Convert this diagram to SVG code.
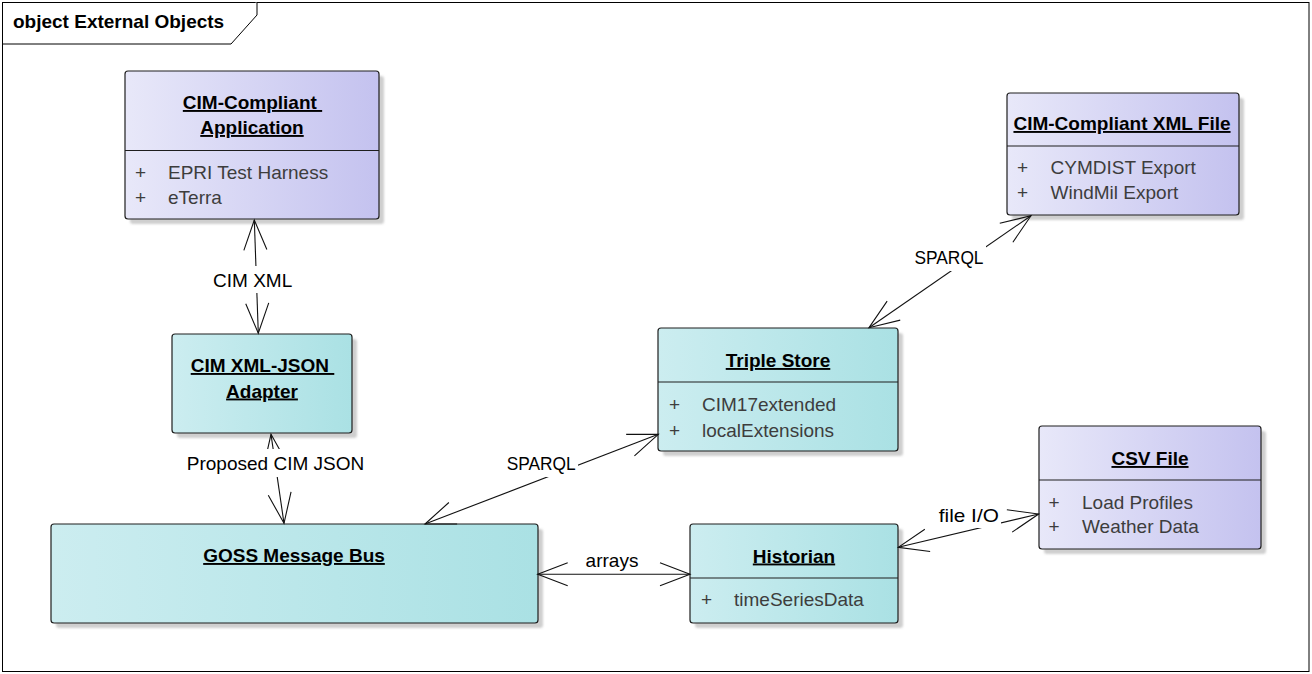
<svg xmlns="http://www.w3.org/2000/svg" width="1312" height="674" viewBox="0 0 1312 674">
<style>
text{font-family:"Liberation Sans",Arial,sans-serif;font-size:19px}
.ttl{font-weight:bold;fill:#000;text-anchor:middle;text-decoration:underline}
.att{fill:#3d3d3d}
.lbl{fill:#000;text-anchor:middle}
.box{stroke:#1e1e1e;stroke-width:1.2}
.sep{stroke:#1e1e1e;stroke-width:1.2}
.shd{fill:#cfcfcf;filter:url(#blur)}
.con{stroke:#111;stroke-width:1.1;fill:none;marker-start:url(#open);marker-end:url(#open)}
.lbg{fill:#fff}
</style>
<defs>
<linearGradient id="gP" x1="0" y1="0" x2="1" y2="0"><stop offset="0" stop-color="#e8e8f9"/><stop offset="1" stop-color="#c4c2ef"/></linearGradient>
<linearGradient id="gT" x1="0" y1="0" x2="1" y2="0"><stop offset="0" stop-color="#ccedf0"/><stop offset="1" stop-color="#aae1e4"/></linearGradient>
<filter id="blur" x="-5%" y="-5%" width="110%" height="110%"><feGaussianBlur stdDeviation="1.2"/></filter>
<marker id="open" markerUnits="userSpaceOnUse" viewBox="-32 -13 34 26" refX="0" refY="0" markerWidth="34" markerHeight="26" orient="auto-start-reverse">
<path d="M-30,-11.5 L0,0 L-30,11.5" fill="none" stroke="#111" stroke-width="1.1"/>
</marker>
</defs>
<rect width="1312" height="674" fill="#fff"/>
<g id="frame">
<rect x="2.5" y="2.5" width="1306.5" height="669" fill="none" stroke="#000" stroke-width="1"/>
<path d="M2.5,44 H231 L257,15 V2.5" fill="#fff" stroke="#000" stroke-width="1"/>
<text x="13" y="28" style="font-weight:bold">object External Objects</text>
</g>

<g id="cim-app">
<rect class="shd" x="130" y="76" width="254" height="148" rx="3"/>
<rect class="box" x="125" y="71" width="254" height="148" rx="3" fill="url(#gP)"/>
<line class="sep" x1="125" y1="150.5" x2="379" y2="150.5"/>
<text class="ttl" x="252.5" y="109" xml:space="preserve">CIM-Compliant </text>
<text class="ttl" x="252" y="134">Application</text>
<text class="att" x="135" y="179">+</text><text class="att" x="168" y="179">EPRI Test Harness</text>
<text class="att" x="135" y="204">+</text><text class="att" x="168" y="204">eTerra</text>
</g>

<g id="cim-xml-file">
<rect class="shd" x="1012" y="98" width="232" height="122" rx="3"/>
<rect class="box" x="1007" y="93" width="232" height="122" rx="3" fill="url(#gP)"/>
<line class="sep" x1="1007" y1="146" x2="1239" y2="146"/>
<text class="ttl" x="1122" y="130">CIM-Compliant XML File</text>
<text class="att" x="1017" y="174">+</text><text class="att" x="1050.5" y="174">CYMDIST Export</text>
<text class="att" x="1017" y="199">+</text><text class="att" x="1050.5" y="199">WindMil Export</text>
</g>

<g id="adapter">
<rect class="shd" x="177" y="339" width="180" height="99" rx="3"/>
<rect class="box" x="172" y="334" width="180" height="99" rx="3" fill="url(#gT)"/>
<text class="ttl" x="262.5" y="372" xml:space="preserve">CIM XML-JSON </text>
<text class="ttl" x="262" y="397.5">Adapter</text>
</g>

<g id="triple-store">
<rect class="shd" x="663" y="333" width="240" height="123" rx="3"/>
<rect class="box" x="658" y="328" width="240" height="123" rx="3" fill="url(#gT)"/>
<line class="sep" x1="658" y1="382" x2="898" y2="382"/>
<text class="ttl" x="778" y="367">Triple Store</text>
<text class="att" x="669" y="410.5">+</text><text class="att" x="702" y="410.5">CIM17extended</text>
<text class="att" x="669" y="436.5">+</text><text class="att" x="702" y="436.5">localExtensions</text>
</g>

<g id="csv-file">
<rect class="shd" x="1044" y="431" width="222" height="123" rx="3"/>
<rect class="box" x="1039" y="426" width="222" height="123" rx="3" fill="url(#gP)"/>
<line class="sep" x1="1039" y1="480" x2="1261" y2="480"/>
<text class="ttl" x="1150" y="465">CSV File</text>
<text class="att" x="1048.5" y="509">+</text><text class="att" x="1082" y="509">Load Profiles</text>
<text class="att" x="1048.5" y="533">+</text><text class="att" x="1082" y="533">Weather Data</text>
</g>

<g id="goss">
<rect class="shd" x="56" y="529" width="487" height="99" rx="3"/>
<rect class="box" x="51" y="524" width="487" height="99" rx="3" fill="url(#gT)"/>
<text class="ttl" x="294" y="562">GOSS Message Bus</text>
</g>

<g id="historian">
<rect class="shd" x="695" y="529" width="208" height="99" rx="3"/>
<rect class="box" x="690" y="524" width="208" height="99" rx="3" fill="url(#gT)"/>
<line class="sep" x1="690" y1="578" x2="898" y2="578"/>
<text class="ttl" x="794" y="562.5">Historian</text>
<text class="att" x="701" y="606">+</text><text class="att" x="734" y="606">timeSeriesData</text>
</g>

<g id="connectors">
<line class="con" x1="254.3" y1="220" x2="258.3" y2="333.3"/>
<line class="con" x1="271" y1="434.3" x2="284" y2="523.3"/>
<line class="con" x1="425" y1="524" x2="658.3" y2="434.3"/>
<line class="con" x1="869" y1="327.7" x2="1031" y2="215.7"/>
<line class="con" x1="898.3" y1="547.3" x2="1038.7" y2="514"/>
<line class="con" x1="537.7" y1="574.3" x2="690" y2="574.3"/>
<rect class="lbg" x="211" y="266" width="84" height="27"/>
<text class="lbl" x="252.7" y="286.7">CIM XML</text>
<rect class="lbg" x="186" y="449" width="180" height="28"/>
<text class="lbl" x="275.5" y="470">Proposed CIM JSON</text>
<rect class="lbg" x="505" y="449" width="73" height="28"/>
<text class="lbl" x="541.2" y="470" textLength="69" lengthAdjust="spacingAndGlyphs">SPARQL</text>
<rect class="lbg" x="912" y="243" width="74" height="28"/>
<text class="lbl" x="949" y="264" textLength="69" lengthAdjust="spacingAndGlyphs">SPARQL</text>
<rect class="lbg" x="936" y="502" width="65" height="26"/>
<text class="lbl" x="968.8" y="522.3" textLength="60" lengthAdjust="spacingAndGlyphs">file I/O</text>
<rect class="lbg" x="582" y="547" width="60" height="25"/>
<text class="lbl" x="612" y="566.7">arrays</text>
</g>
</svg>
